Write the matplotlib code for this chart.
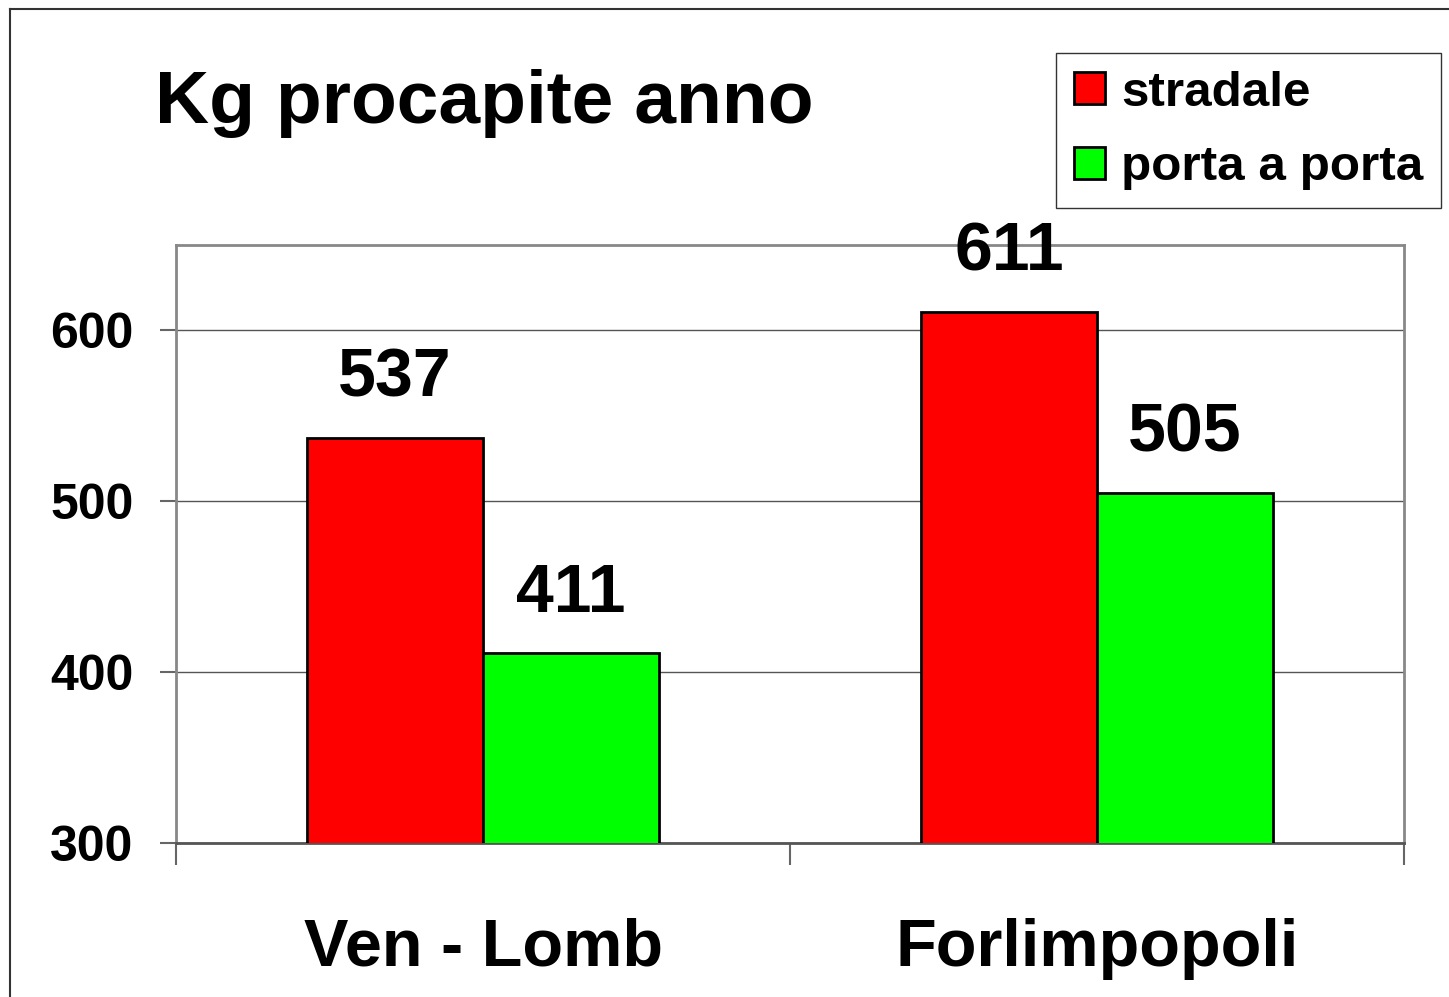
import matplotlib
matplotlib.use("Agg")
import matplotlib.pyplot as plt
import numpy as np
from matplotlib.patches import Patch
from matplotlib.lines import Line2D

categories = ["Ven - Lomb", "Forlimpopoli"]
series_names = ["stradale", "porta a porta"]
stradale = [537, 611]
porta_a_porta = [411, 505]
yticks = [300, 400, 500, 600]

plt.rcParams['font.family'] = ['Liberation Sans', 'DejaVu Sans']
plt.rcParams['font.weight'] = 'bold'

W, H = 1449, 997
fig = plt.figure(figsize=(W/100, H/100), dpi=100)
ax = fig.add_axes([176/W, 1-843/H, (1404-176)/W, (843-245)/H])

x = np.arange(len(categories))
bw = 0.286
ax.bar(x - bw/2, stradale, bw, color='#ff0000', edgecolor='black', linewidth=2, zorder=3)
ax.bar(x + bw/2, porta_a_porta, bw, color='#00ff00', edgecolor='black', linewidth=2, zorder=3)

for xi, v in zip(x - bw/2, stradale):
    ax.text(xi, v + 16, str(v), ha='center', va='bottom', fontsize=49, fontweight='bold')
for xi, v in zip(x + bw/2, porta_a_porta):
    ax.text(xi, v + 16, str(v), ha='center', va='bottom', fontsize=49, fontweight='bold')

ax.set_xlim(-0.5, 1.5)
ax.set_ylim(300, 650)
ax.set_yticks(yticks)
ax.set_yticklabels([str(t) for t in yticks], fontsize=36, fontweight='bold')
ax.set_xticks([-0.5, 0.5, 1.5])
ax.set_xticklabels([])
ax.set_xticks(x, minor=True)
ax.set_xticklabels(categories, minor=True, fontsize=48, fontweight='bold')
ax.tick_params(axis='x', which='minor', length=0, pad=54)
ax.tick_params(axis='x', which='major', length=16, width=1.5, color='#666666', direction='out')
ax.tick_params(axis='y', length=11.5, width=1.5, color='#666666', pad=19)
ax.grid(axis='y', color='#555555', linewidth=1, zorder=0)
for s in ax.spines.values():
    s.set_color('#888888')
    s.set_linewidth(2)
ax.spines['bottom'].set_color('#555555')

fig.text(155/W, 1-103/H, "Kg procapite anno", fontsize=54, fontweight='bold', va='center', ha='left')

handles = [Patch(facecolor='#ff0000', edgecolor='black', linewidth=2),
           Patch(facecolor='#00ff00', edgecolor='black', linewidth=2)]
leg = fig.legend(handles, series_names, loc='upper right', bbox_to_anchor=(1441/W, 1-53/H),
                 fontsize=35.6, frameon=True, fancybox=False, edgecolor='black',
                 handlelength=0.62, handleheight=0.62, handletextpad=0.33,
                 borderpad=0.36, labelspacing=0.6, borderaxespad=0)
leg.get_frame().set_linewidth(1)

fig.add_artist(Line2D([10/W, 10/W], [0, 1-9/H], color='#333333', linewidth=1.5))
fig.add_artist(Line2D([10/W, 1], [1-9/H, 1-9/H], color='#333333', linewidth=1.5))

fig.savefig("out.png", dpi=100)
